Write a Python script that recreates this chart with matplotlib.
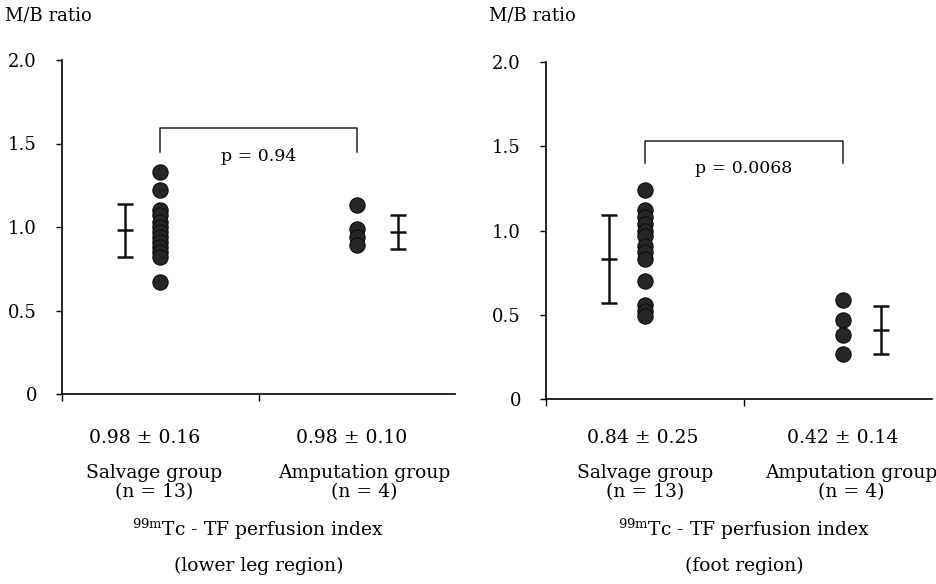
import matplotlib
matplotlib.use("Agg")
import matplotlib.pyplot as plt
import matplotlib.transforms as mtransforms

plt.rcParams['font.family'] = ['DejaVu Serif']
plt.rcParams['mathtext.fontset'] = 'dejavuserif'

# M/B ratio values
leg_salvage = [1.33, 1.22, 1.10, 1.07, 1.03, 1.00, 0.97, 0.94, 0.91, 0.88, 0.85, 0.82, 0.67]
leg_amputation = [1.13, 0.99, 0.94, 0.89]
foot_salvage = [1.24, 1.12, 1.08, 1.04, 1.00, 0.97, 0.91, 0.87, 0.83, 0.70, 0.56, 0.52, 0.49]
foot_amputation = [0.59, 0.47, 0.38, 0.27]

# mean / SD bars as drawn
leg_bar_mean = [0.98, 0.97]
leg_bar_sd = [0.16, 0.10]
foot_bar_mean = [0.83, 0.41]
foot_bar_sd = [0.26, 0.14]

leg_stats = ['0.98 \u00b1 0.16', '0.98 \u00b1 0.10']
foot_stats = ['0.84 \u00b1 0.25', '0.42 \u00b1 0.14']
groups = ['Salvage group', 'Amputation group']
group_n = ['(n = 13)', '(n = 4)']
leg_p = 'p = 0.94'
foot_p = 'p = 0.0068'
regions = ['(lower leg region)', '(foot region)']
yticks = [0, 0.5, 1.0, 1.5, 2.0]
ytick_labels = ['0', '0.5', '1.0', '1.5', '2.0']

W, H = 936, 584
fig = plt.figure(figsize=(W / 100, H / 100), dpi=100)


def px_axes(x0, x1, y_top, y_bot):
    return fig.add_axes([x0 / W, 1 - y_bot / H, (x1 - x0) / W, (y_bot - y_top) / H])


panels = [
    dict(ax=px_axes(62, 455, 60, 394), xmax=4.0, sal=leg_salvage, amp=leg_amputation,
         bm=leg_bar_mean, bs=leg_bar_sd, bx=[0.64, 3.42], stats=leg_stats,
         sx=[0.84, 2.95], gx=[0.94, 3.08], p=leg_p, br=(1.59, 1.45), py=1.42,
         region=regions[0]),
    dict(ax=px_axes(546, 932, 62, 399), xmax=3.9, sal=foot_salvage, amp=foot_amputation,
         bm=foot_bar_mean, bs=foot_bar_sd, bx=[0.64, 3.38], stats=foot_stats,
         sx=[0.98, 3.0], gx=[1.0, 3.08], p=foot_p, br=(1.53, 1.40), py=1.37,
         region=regions[1]),
]

dot = dict(marker='o', ms=11, mfc='#262626', mec='#0d0d0d', mew=0.8, ls='none')

for pn in panels:
    ax = pn['ax']
    ax.plot([1.0] * len(pn['sal']), pn['sal'], **dot)
    ax.plot([3.0] * len(pn['amp']), pn['amp'], **dot)
    ax.errorbar(pn['bx'], pn['bm'], yerr=pn['bs'], fmt='_', color='#111111',
                ms=12, mew=1.8, elinewidth=1.8, capsize=5.5, capthick=1.8)

    # significance bracket
    top, foot = pn['br']
    ax.plot([1.0, 1.0, 3.0, 3.0], [foot, top, top, foot], color='#222222', lw=1.1)
    ax.text(2.0, pn['py'], pn['p'], ha='center', va='center', fontsize=12.5)

    ax.set_xlim(0, pn['xmax'])
    ax.set_ylim(0, 2.0)
    for s in ['top', 'right']:
        ax.spines[s].set_visible(False)
    for s in ['left', 'bottom']:
        ax.spines[s].set_linewidth(1.2)
    ax.set_yticks(yticks)
    ax.set_yticklabels(ytick_labels, fontsize=13)
    ax.set_xticks([0, 2.0])
    ax.set_xticklabels([])
    ax.tick_params(axis='y', direction='out', length=4, width=1, pad=14)
    ax.tick_params(axis='x', direction='out', length=5, width=1)

    tr = mtransforms.blended_transform_factory(ax.transData, fig.transFigure)
    for i in range(2):
        ax.text(pn['sx'][i], 1 - 438 / H, pn['stats'][i], transform=tr,
                ha='center', va='center', fontsize=13.5)
        ax.text(pn['gx'][i], 1 - 473 / H, groups[i], transform=tr,
                ha='center', va='center', fontsize=13.5)
        ax.text(pn['gx'][i], 1 - 492 / H, group_n[i], transform=tr,
                ha='center', va='center', fontsize=13.5)
    ax.text(2.0, 1 - 529 / H, r'$^{\mathrm{99m}}$Tc - TF perfusion index',
            transform=tr, ha='center', va='center', fontsize=13.5)
    ax.text(2.0, 1 - 566 / H, pn['region'], transform=tr,
            ha='center', va='center', fontsize=13.5)
    ax.text(-0.58, 1 - 16 / H, 'M/B ratio', transform=tr,
            ha='left', va='center', fontsize=13)

fig.savefig('out.png', dpi=100)
